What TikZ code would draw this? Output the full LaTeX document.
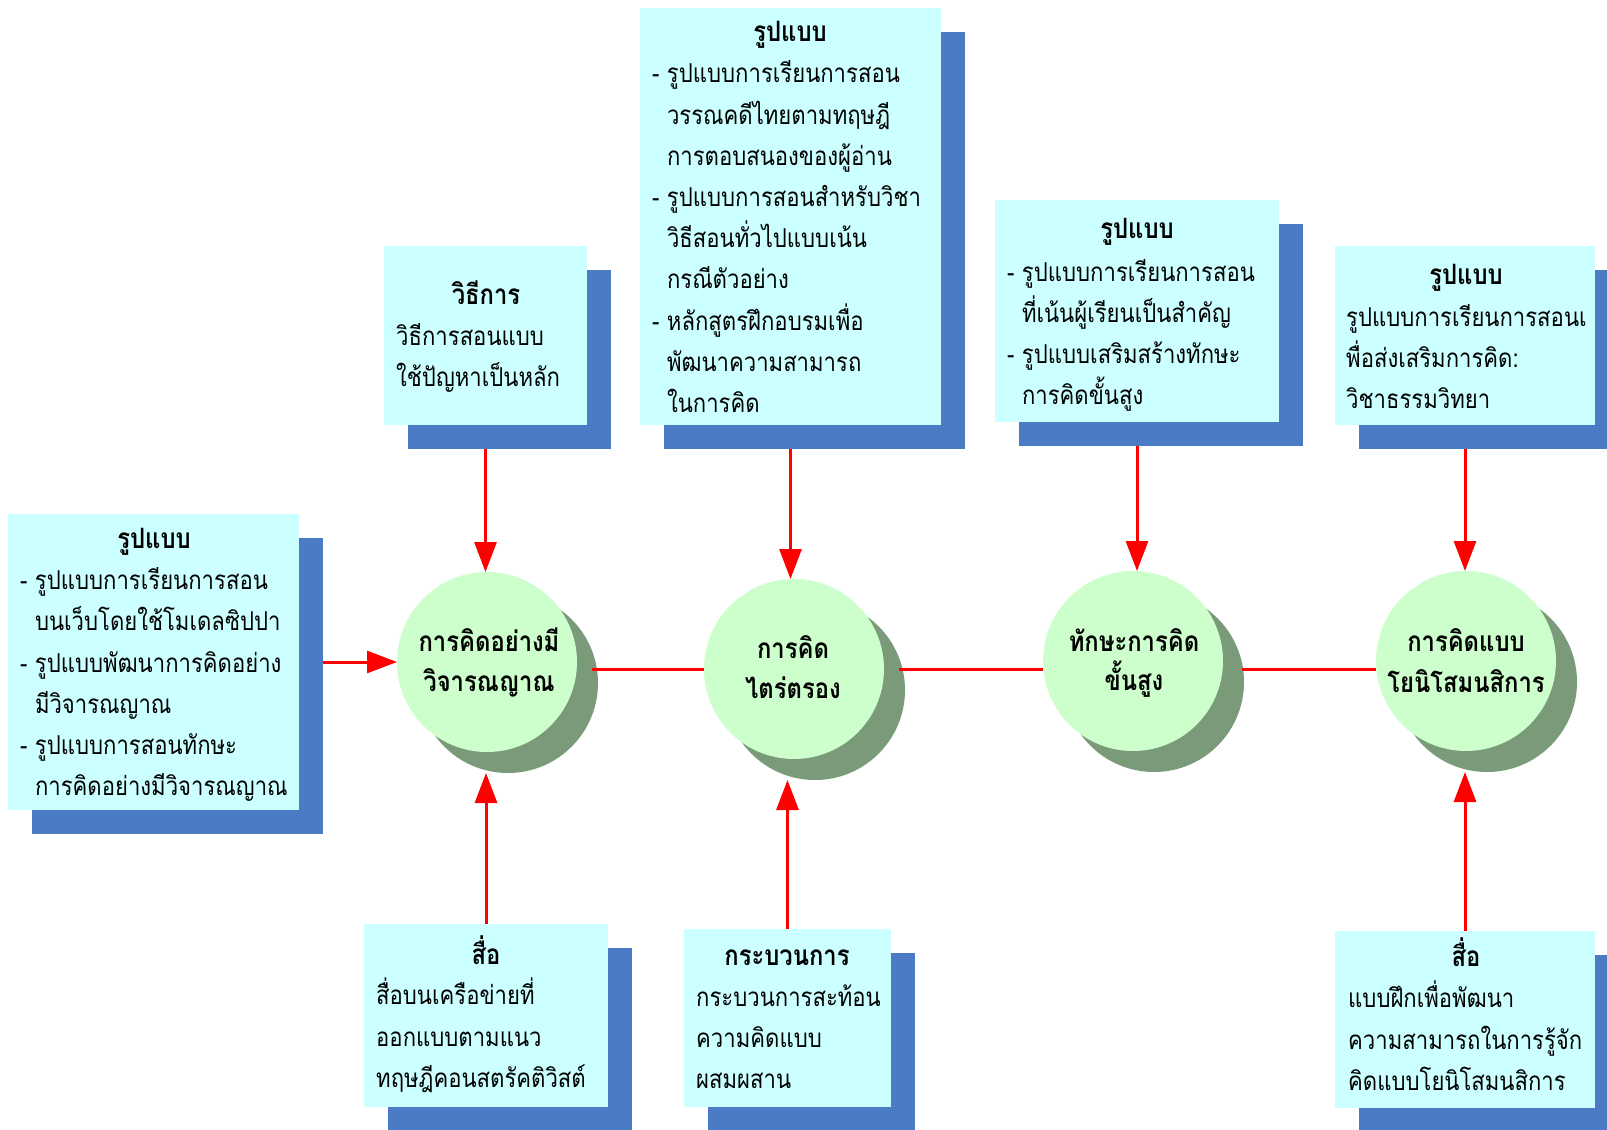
\documentclass[tikz,border=0pt]{standalone}
\usepackage{fontspec}
\newfontfamily\thaifont[Script=Thai, FakeStretch=0.85]{Loma}
\usetikzlibrary{arrows.meta}
\definecolor{boxfill}{HTML}{CCFFFF}
\definecolor{boxshade}{HTML}{4A7BC4}
\definecolor{ballfill}{HTML}{CCFFCC}
\definecolor{ballshade}{HTML}{7A9A7A}
\begin{document}
\begin{tikzpicture}[x=1pt,y=-1pt,
  panel/.style={fill=boxfill, draw=none, anchor=north west, inner sep=0pt, outer sep=0pt},
  panelshade/.style={fill=boxshade, draw=none, anchor=north west, inner sep=0pt, outer sep=0pt},
  ball/.style={circle, fill=ballfill, draw=none, minimum size=180pt, inner sep=0pt, outer sep=0pt},
  ballshade/.style={circle, fill=ballshade, draw=none, minimum size=180pt, inner sep=0pt, outer sep=0pt},
  txt/.style={anchor=base west, inner sep=0pt, font=\thaifont\fontsize{26}{30}\selectfont},
  head/.style={anchor=base, inner sep=0pt, font=\thaifont\bfseries\fontsize{28}{32}\selectfont},
  link/.style={draw=red, line width=3pt},
  arrow/.style={link, -{Triangle[length=30pt,width=22pt]}},
]
\useasboundingbox (0,0) rectangle (1607,1130);
\clip (0,0) rectangle (1607,1130);

% ---- shadows of the text panels
\node[panelshade, minimum width=291pt, minimum height=296pt] (Ls)  at (32,538) {};
\node[panelshade, minimum width=203pt, minimum height=179pt] (T1s) at (408,270) {};
\node[panelshade, minimum width=301pt, minimum height=417pt] (T2s) at (664,32) {};
\node[panelshade, minimum width=284pt, minimum height=222pt] (T3s) at (1019,224) {};
\node[panelshade, minimum width=260pt, minimum height=179pt] (T4s) at (1359,270) {};
\node[panelshade, minimum width=244pt, minimum height=183pt] (B1s) at (388,948) {};
\node[panelshade, minimum width=207pt, minimum height=178pt] (B2s) at (708,953) {};
\node[panelshade, minimum width=260pt, minimum height=177pt] (B3s) at (1359,955) {};

% ---- text panels
\node[panel, minimum width=291pt, minimum height=296pt] (L)  at (8,514) {};
\node[panel, minimum width=203pt, minimum height=179pt] (T1) at (384,246) {};
\node[panel, minimum width=301pt, minimum height=417pt] (T2) at (640,8) {};
\node[panel, minimum width=284pt, minimum height=222pt] (T3) at (995,200) {};
\node[panel, minimum width=260pt, minimum height=179pt] (T4) at (1335,246) {};
\node[panel, minimum width=244pt, minimum height=183pt] (B1) at (364,924) {};
\node[panel, minimum width=207pt, minimum height=178pt] (B2) at (684,929) {};
\node[panel, minimum width=260pt, minimum height=177pt] (B3) at (1335,931) {};

% ---- concept circles with their shadows
\node[ballshade] (s1) at (508,683) {};
\node[ballshade] (s2) at (815,690) {};
\node[ballshade] (s3) at (1154,682) {};
\node[ballshade] (s4) at (1487,682) {};
\node[ball] (c1) at (487,662) {};
\node[ball] (c2) at (794,669) {};
\node[ball] (c3) at (1133,661) {};
\node[ball] (c4) at (1466,661) {};

% ---- links between the circles
\draw[link] ([xshift=-6pt]s1.east |- c2.center) -- (c2.west);
\draw[link] ([xshift=-6pt]s2.east |- c2.center) -- (c3.west |- c2.center);
\draw[link] ([xshift=-2pt]s3.east |- c2.center) -- (c4.west |- c2.center);

% ---- arrows from the panels
\draw[arrow] (Ls.east |- c1.center) -- (c1.west);
\draw[arrow] (T1.south |- T1s.south) -- (T1.south |- c1.north);
\draw[arrow] (T2.south |- T2s.south) -- (T2.south |- c2.north);
\draw[arrow] (T3.south |- T3s.south) -- (T3.south |- c3.north);
\draw[arrow] (T4.south |- T4s.south) -- (T4.south |- c4.north);
\draw[arrow] (B1.north) -- (B1.north |- s1.south);
\draw[arrow] (B2.north) -- (B2.north |- s2.south);
\draw[arrow] (B3.north) -- (B3.north |- s4.south);

% ---- circle labels
\node[head] (c1a) at (489,651) {การคิดอย่างมี};
\node[head] (c1b) at (489,691) {วิจารณญาณ};
\node[head] (c2a) at (793,658) {การคิด};
\node[head] (c2b) at (793,698) {ไตร่ตรอง};
\node[head] (c3a) at (1134,651) {ทักษะการคิด};
\node[head] (c3b) at (1134,690) {ขั้นสูง};
\node[head] (c4a) at (1466,651) {การคิดแบบ};
\node[head] (c4b) at (1466,692) {โยนิโสมนสิการ};

% ---- left panel text
\node[head] (Lh) at (154,548) {รูปแบบ};
\node[txt] (L1) at (20,589) {- รูปแบบการเรียนการสอน};
\node[txt] (L2) at (20,630) {\hphantom{- }บนเว็บโดยใช้โมเดลซิปปา};
\node[txt] (L3) at (20,672) {- รูปแบบพัฒนาการคิดอย่าง};
\node[txt] (L4) at (20,713) {\hphantom{- }มีวิจารณญาณ};
\node[txt] (L5) at (20,754) {- รูปแบบการสอนทักษะ};
\node[txt] (L6) at (20,795) {\hphantom{- }การคิดอย่างมีวิจารณญาณ};

% ---- top panels text
\node[head] (T1h) at (486,304) {วิธีการ};
\node[txt] (T1a) at (396,345) {วิธีการสอนแบบ};
\node[txt] (T1b) at (396,386) {ใช้ปัญหาเป็นหลัก};

\node[head] (T2h) at (790,41) {รูปแบบ};
\node[txt] (T2a) at (652,82)  {- รูปแบบการเรียนการสอน};
\node[txt] (T2b) at (652,124) {\hphantom{- }วรรณคดีไทยตามทฤษฎี};
\node[txt] (T2c) at (652,165) {\hphantom{- }การตอบสนองของผู้อ่าน};
\node[txt] (T2d) at (652,206) {- รูปแบบการสอนสำหรับวิชา};
\node[txt] (T2e) at (652,247) {\hphantom{- }วิธีสอนทั่วไปแบบเน้น};
\node[txt] (T2f) at (652,288) {\hphantom{- }กรณีตัวอย่าง};
\node[txt] (T2g) at (652,330) {- หลักสูตรฝึกอบรมเพื่อ};
\node[txt] (T2h2) at (652,371) {\hphantom{- }พัฒนาความสามารถ};
\node[txt] (T2i) at (652,412) {\hphantom{- }ในการคิด};

\node[head] (T3h) at (1137,238) {รูปแบบ};
\node[txt] (T3a) at (1007,281) {- รูปแบบการเรียนการสอน};
\node[txt] (T3b) at (1007,322) {\hphantom{- }ที่เน้นผู้เรียนเป็นสำคัญ};
\node[txt] (T3c) at (1007,363) {- รูปแบบเสริมสร้างทักษะ};
\node[txt] (T3d) at (1007,404) {\hphantom{- }การคิดขั้นสูง};

\node[head] (T4h) at (1466,284) {รูปแบบ};
\node[txt] (T4a) at (1346,326) {รูปแบบการเรียนการสอนเ};
\node[txt] (T4b) at (1346,367) {พื่อส่งเสริมการคิด:};
\node[txt] (T4c) at (1346,408) {วิชาธรรมวิทยา};

% ---- bottom panels text
\node[head] (B1h) at (486,964) {สื่อ};
\node[txt] (B1a) at (376,1004) {สื่อบนเครือข่ายที่};
\node[txt] (B1b) at (376,1046) {ออกแบบตามแนว};
\node[txt] (B1c) at (376,1087) {ทฤษฎีคอนสตรัคติวิสต์};

\node[head] (B2h) at (787,965) {กระบวนการ};
\node[txt] (B2a) at (696,1006) {กระบวนการสะท้อน};
\node[txt] (B2b) at (696,1047) {ความคิดแบบ};
\node[txt] (B2c) at (696,1088) {ผสมผสาน};

\node[head] (B3h) at (1466,966) {สื่อ};
\node[txt] (B3a) at (1348,1007) {แบบฝึกเพื่อพัฒนา};
\node[txt] (B3b) at (1348,1049) {ความสามารถในการรู้จัก};
\node[txt] (B3c) at (1348,1090) {คิดแบบโยนิโสมนสิการ};
\end{tikzpicture}
\end{document}
